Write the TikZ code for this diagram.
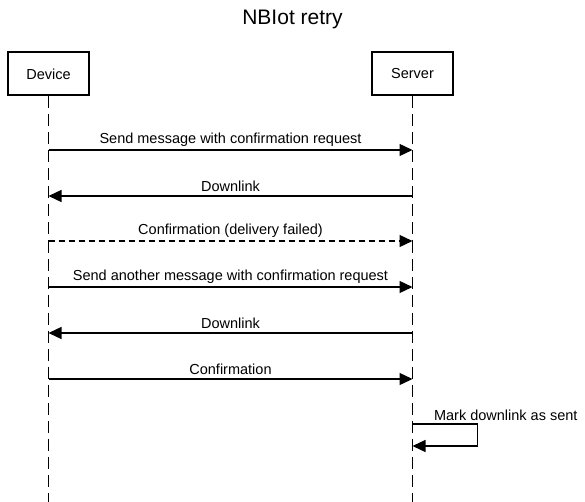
\documentclass[tikz,border=0pt]{standalone}
\usepackage{fontspec}
\setmainfont{Liberation Sans}
\usetikzlibrary{arrows.meta,positioning}

\begin{document}
\begin{tikzpicture}[x=1pt, y=-1pt,
	actor/.style={draw, line width=2pt, minimum width=81pt, minimum height=43pt, font=\fontsize{14.5}{17}\selectfont},
	life/.style={line width=1.3pt, dash pattern=on 12pt off 6pt},
	msg/.style={line width=1.3pt, -{Triangle[length=13pt,width=12pt]}},
	lbl/.style={font=\fontsize{14.5}{17}\selectfont}]
	\useasboundingbox (0,0) rectangle (585,502);
	\node[font=\fontsize{21}{25}\selectfont, anchor=base] (title) at (292.5,25) {NBIot retry};
	\node[actor] (device) at (48.5,74) {Device};
	\node[actor, right=281pt of device] (server) {Server};
	\coordinate (devend) at (device |- 0,502);
	\coordinate (srvend) at (server |- 0,502);
	\draw[life] (device) -- (devend);
	\draw[life] (server) -- (srvend);
	\foreach \i/\y in {1/150,2/196,3/241,4/287,5/333,6/379,7/424,8/446} {
		\coordinate (d\i) at (device |- 0,\y);
		\coordinate (s\i) at (server |- 0,\y);
	}
	\draw[msg] (d1) -- node[lbl, above] (m1) {Send message with confirmation request} (s1);
	\draw[msg] (s2) -- node[lbl, above] (m2) {Downlink} (d2);
	\draw[msg, dash pattern=on 6pt off 4pt] (d3) -- node[lbl, above] (m3) {Confirmation (delivery failed)} (s3);
	\draw[msg] (d4) -- node[lbl, above] (m4) {Send another message with confirmation request} (s4);
	\draw[msg] (s5) -- node[lbl, above] (m5) {Downlink} (d5);
	\draw[msg] (d6) -- node[lbl, above] (m6) {Confirmation} (s6);
	% self message on the server
	\node[lbl, anchor=south west, xshift=18pt] (m7) at (s7) {Mark downlink as sent};
	\draw[msg] (s7) -- ++(65,0) |- (s8);
\end{tikzpicture}
\end{document}
